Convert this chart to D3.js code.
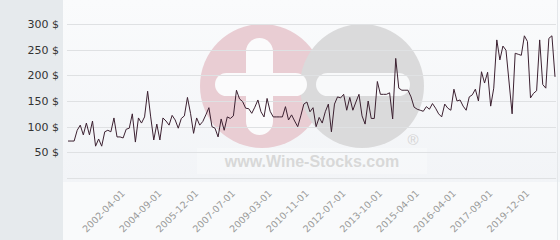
<!DOCTYPE html>
<html>
<head>
<meta charset="utf-8">
<script src="https://cdn.jsdelivr.net/npm/d3@7/dist/d3.min.js"></script>
<style>
  html, body { margin: 0; padding: 0; background: #ffffff; }
  svg { display: block; }
</style>
</head>
<body>
<svg id="chart" width="560" height="240"></svg>
<script>
// ---- data ----
const values = [
  72, 72, 72, 93, 103, 84, 107, 84, 111, 62,
  76, 62, 90, 93, 90, 117, 80, 80, 78, 95,
  97, 125, 70, 117, 107, 119, 169, 119, 74, 105,
  74, 117, 111, 103, 122, 113, 97, 116, 121, 157,
  126, 87, 117, 103, 110, 123, 137, 100, 97, 80,
  115, 93, 119, 116, 121, 171, 154, 149, 136, 135,
  126, 138, 152, 129, 119, 155, 130, 119, 119, 119,
  119, 139, 113, 123, 111, 100, 121, 144, 148, 129,
  137, 100, 118, 107, 129, 144, 90, 144, 158, 156,
  163, 132, 157, 132, 148, 163, 121, 105, 150, 116,
  116, 188, 163, 163, 163, 166, 115, 233, 175, 171,
  171, 171, 158, 138, 134, 132, 130, 139, 134, 145,
  136, 125, 119, 144, 136, 132, 173, 150, 152, 140,
  132, 158, 162, 173, 150, 207, 185, 206, 140, 175,
  269, 230, 257, 249, 187, 125, 243, 241, 239, 277,
  266, 156, 165, 170, 269, 182, 175, 272, 277, 197
];
const tickIndex = [18, 30, 42, 54, 66, 78, 90, 102, 114, 126, 138, 150];
const tickLabels = ["2002-04-01", "2004-09-01", "2005-12-01", "2007-07-01",
  "2009-03-01", "2010-11-01", "2012-07-01", "2013-10-01", "2015-04-01",
  "2016-04-01", "2017-09-01", "2019-12-01"];
const yTicks = [50, 100, 150, 200, 250, 300];
const gridTicks = [0, 50, 100, 150, 200, 250, 300];

// ---- layout ----
const W = 560, H = 240;
const plotL = 67, plotR = 556, plotT = 24, plotB = 178;
const svg = d3.select("#chart");

const defs = svg.append("defs");
const g1 = defs.append("linearGradient").attr("id", "bg").attr("x1", 0).attr("y1", 0).attr("x2", 0).attr("y2", 1);
g1.append("stop").attr("offset", "0%").attr("stop-color", "#fafbfc");
g1.append("stop").attr("offset", "100%").attr("stop-color", "#f2f4f7");

// backgrounds
svg.append("rect").attr("x", 0).attr("y", 0).attr("width", W).attr("height", H).attr("fill", "#f9fafb");
svg.append("rect").attr("x", 63).attr("y", 0).attr("width", W - 63).attr("height", 182).attr("fill", "url(#bg)");
svg.append("rect").attr("x", 0).attr("y", 0).attr("width", 63).attr("height", H).attr("fill", "#e6eaed");
svg.append("line").attr("x1", 557.5).attr("x2", 557.5).attr("y1", 0).attr("y2", H)
  .attr("stroke", "#e4e7ea").attr("stroke-width", 1);

// ---- watermark ----
const wm = svg.append("g");
wm.append("rect").attr("x", 197).attr("y", 148).attr("width", 230).attr("height", 26)
  .attr("fill", "#ffffff").attr("opacity", 0.3);
wm.append("circle").attr("cx", 262).attr("cy", 86).attr("r", 62).attr("fill", "#e9cdd3");
wm.append("circle").attr("cx", 362).attr("cy", 86).attr("r", 62).attr("fill", "#dadadb");
// plus
wm.append("rect").attr("x", 215).attr("y", 73).attr("width", 92).attr("height", 23).attr("rx", 11.5).attr("fill", "#fbfbfc");
wm.append("rect").attr("x", 246).attr("y", 38).attr("width", 27).attr("height", 97).attr("rx", 13.5).attr("fill", "#fbfbfc");
// minus
wm.append("rect").attr("x", 316).attr("y", 73).attr("width", 94).attr("height", 23).attr("rx", 11.5).attr("fill", "#f8f9fa");
wm.append("text").attr("x", 413).attr("y", 145).attr("text-anchor", "middle")
  .attr("font-family", "Liberation Sans, Arial, sans-serif").attr("font-size", 15).attr("fill", "#d4d4d4")
  .text("®");
wm.append("text").attr("x", 312).attr("y", 167).attr("text-anchor", "middle")
  .attr("font-family", "Liberation Sans, Arial, sans-serif").attr("font-weight", "bold")
  .attr("font-size", 16).attr("fill", "#d8d8d8").text("www.Wine-Stocks.com");

// ---- scales ----
const x = d3.scalePoint().domain(d3.range(values.length)).range([68, 555]);
const y = d3.scaleLinear().domain([0, 300]).range([plotB, plotT]);

// grid
const grid = svg.append("g").attr("transform", `translate(${plotL},0)`)
  .call(d3.axisRight(y).tickValues(gridTicks).tickSize(plotR - plotL).tickFormat(""));
grid.select(".domain").remove();
grid.selectAll("line").attr("stroke", "#dfe1e3").attr("shape-rendering", "crispEdges");

// y labels
const ya = svg.append("g").attr("transform", "translate(59,0)")
  .call(d3.axisLeft(y).tickValues(yTicks).tickSize(0).tickPadding(0).tickFormat(d => d + " $"));
ya.select(".domain").remove();
ya.selectAll("text").attr("font-family", "DejaVu Sans, sans-serif").attr("font-size", 11).attr("fill", "#333");

// x labels
const xa = svg.append("g").attr("transform", `translate(0,${plotB})`)
  .call(d3.axisBottom(x).tickValues(tickIndex).tickSize(0).tickFormat((d, i) => tickLabels[i]));
xa.select(".domain").remove();
xa.selectAll("text")
  .attr("font-family", "DejaVu Sans, sans-serif").attr("font-size", 9.5).attr("fill", "#9a9a9a")
  .attr("text-anchor", "end").attr("dy", null).attr("y", 0)
  .attr("transform", "translate(2,16) rotate(-45)");

// line
const line = d3.line().x((d, i) => x(i)).y(d => y(d));
svg.append("path").datum(values).attr("d", line)
  .attr("fill", "none").attr("stroke", "#3c2131").attr("stroke-width", 1).attr("stroke-linejoin", "miter");
</script>
</body>
</html>
